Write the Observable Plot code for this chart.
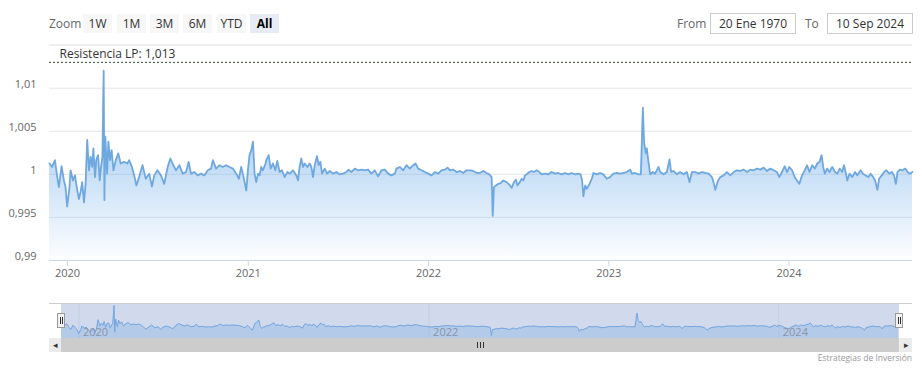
<!DOCTYPE html>
<html>
<head>
<meta charset="utf-8">
<script src="https://cdn.jsdelivr.net/npm/d3@7"></script>
<script src="https://cdn.jsdelivr.net/npm/@observablehq/plot@0.6"></script>
<style>
  body { margin: 0; background: #fff; font-family: "Open Sans", sans-serif; }
  #wrap { position: relative; width: 922px; height: 370px; overflow: hidden; background: #fff; }
  .abs { position: absolute; }
  .lbl { position: absolute; top: 14px; height: 19px; line-height: 19px; font-size: 12px; color: #666; }
  .btn { position: absolute; top: 14px; height: 19px; line-height: 19px; font-size: 12px; color: #333; background: #f7f7f7; text-align: center; }
  .btn.sel { background: #e6ebf5; font-weight: bold; color: #000; }
  .box { position: absolute; top: 13px; height: 19px; line-height: 19px; font-size: 12px; color: #333; border: 1px solid #cccccc; text-align: center; background: #fff; }
  .handle { position: absolute; top: 313px; width: 6px; height: 13px; background: #f2f2f2; border: 1px solid #999; }
  .handle::before, .handle::after { content: ""; position: absolute; top: 3px; width: 1px; height: 7px; background: #333; }
  .handle::before { left: 2px; } .handle::after { left: 4px; }
</style>
</head>
<body>
<div id="wrap"></div>
<script>
// ---- data ----
const decimalYears = [
  2019.900,2019.915,2019.930,2019.943,2019.952,2019.967,2019.980,2019.989,2019.998,2020.011,
  2020.017,2020.030,2020.041,2020.054,2020.063,2020.072,2020.081,2020.091,2020.100,2020.109,
  2020.119,2020.128,2020.137,2020.143,2020.152,2020.159,2020.169,2020.178,2020.183,2020.193,
  2020.200,2020.204,2020.209,2020.219,2020.226,2020.235,2020.244,2020.254,2020.267,2020.281,
  2020.294,2020.313,2020.331,2020.341,2020.356,2020.369,2020.381,2020.396,2020.415,2020.433,
  2020.452,2020.467,2020.480,2020.498,2020.517,2020.535,2020.554,2020.569,2020.581,2020.600,
  2020.619,2020.637,2020.656,2020.670,2020.683,2020.702,2020.720,2020.739,2020.757,2020.776,
  2020.794,2020.804,2020.822,2020.841,2020.859,2020.878,2020.896,2020.915,2020.933,2020.948,
  2020.961,2020.974,2020.989,2020.998,2021.007,2021.017,2021.026,2021.035,2021.044,2021.054,
  2021.063,2021.072,2021.081,2021.096,2021.100,2021.113,2021.124,2021.137,2021.150,2021.161,
  2021.174,2021.187,2021.202,2021.217,2021.230,2021.248,2021.267,2021.276,2021.285,2021.294,
  2021.304,2021.313,2021.328,2021.341,2021.350,2021.359,2021.369,2021.381,2021.391,2021.400,
  2021.409,2021.424,2021.437,2021.452,2021.470,2021.489,2021.507,2021.526,2021.544,2021.557,
  2021.572,2021.591,2021.609,2021.628,2021.646,2021.665,2021.683,2021.702,2021.720,2021.739,
  2021.757,2021.776,2021.794,2021.813,2021.822,2021.841,2021.859,2021.878,2021.896,2021.915,
  2021.928,2021.943,2021.961,2021.980,2021.998,2022.017,2022.035,2022.054,2022.072,2022.091,
  2022.106,2022.119,2022.137,2022.156,2022.174,2022.193,2022.211,2022.230,2022.248,2022.267,
  2022.285,2022.304,2022.322,2022.337,2022.350,2022.356,2022.363,2022.374,2022.387,2022.400,
  2022.415,2022.433,2022.452,2022.461,2022.474,2022.485,2022.493,2022.507,2022.517,2022.526,
  2022.535,2022.544,2022.559,2022.572,2022.585,2022.600,2022.615,2022.628,2022.646,2022.665,
  2022.683,2022.702,2022.720,2022.739,2022.757,2022.776,2022.794,2022.813,2022.831,2022.844,
  2022.852,2022.859,2022.869,2022.878,2022.893,2022.906,2022.915,2022.933,2022.952,2022.970,
  2022.989,2023.007,2023.026,2023.044,2023.063,2023.081,2023.100,2023.119,2023.128,2023.146,
  2023.165,2023.178,2023.189,2023.196,2023.206,2023.211,2023.220,2023.230,2023.244,2023.257,
  2023.276,2023.285,2023.304,2023.322,2023.337,2023.346,2023.359,2023.378,2023.396,2023.415,
  2023.433,2023.448,2023.461,2023.480,2023.498,2023.517,2023.535,2023.554,2023.572,2023.581,
  2023.591,2023.606,2023.619,2023.637,2023.656,2023.674,2023.693,2023.711,2023.730,2023.748,
  2023.767,2023.785,2023.804,2023.822,2023.841,2023.859,2023.878,2023.896,2023.915,2023.933,
  2023.946,2023.961,2023.976,2023.989,2024.002,2024.017,2024.031,2024.044,2024.057,2024.072,
  2024.087,2024.100,2024.113,2024.128,2024.143,2024.156,2024.169,2024.180,2024.189,2024.198,
  2024.211,2024.224,2024.239,2024.254,2024.267,2024.280,2024.294,2024.304,2024.313,2024.322,
  2024.335,2024.350,2024.365,2024.378,2024.396,2024.409,2024.424,2024.439,2024.452,2024.465,
  2024.476,2024.489,2024.498,2024.513,2024.526,2024.539,2024.554,2024.569,2024.581,2024.591,
  2024.600,2024.613,2024.628,2024.643,2024.656,2024.669,2024.683
];
const rates = [
  1.00126,1.00086,1.00165,0.99968,0.99851,1.00094,0.99929,0.99851,0.99627,0.99851,
  1.00047,0.99929,0.99988,0.99812,0.99714,0.99792,0.99910,0.99674,0.99890,1.00400,
  1.00047,1.00204,1.00086,1.00302,0.99968,1.00165,1.00223,0.99929,1.00047,1.00204,
  1.01203,0.99702,1.00439,1.00008,1.00380,1.00165,1.00282,1.00047,1.00165,1.00243,
  1.00126,1.00145,1.00126,1.00165,1.00086,0.99988,0.99871,0.99968,1.00106,0.99949,
  1.00008,0.99859,0.99988,1.00047,0.99988,0.99890,1.00086,1.00184,1.00126,1.00047,
  1.00106,1.00008,1.00027,1.00145,1.00008,1.00027,0.99988,1.00008,0.99988,1.00047,
  1.00067,1.00165,1.00067,1.00106,1.00086,1.00106,1.00086,1.00067,1.00008,0.99949,
  1.00086,0.99968,0.99812,1.00047,1.00223,1.00282,1.00380,1.00008,0.99910,1.00008,
  0.99988,1.00086,1.00047,1.00126,1.00165,1.00223,1.00067,1.00126,1.00047,1.00157,
  1.00027,1.00047,0.99968,1.00027,1.00008,1.00047,0.99988,0.99929,1.00086,1.00184,
  1.00086,1.00126,1.00086,1.00126,1.00086,0.99968,1.00106,1.00212,1.00106,1.00145,
  1.00008,1.00067,1.00008,1.00039,1.00008,1.00027,1.00000,1.00008,1.00027,1.00055,
  1.00027,1.00067,1.00047,1.00055,1.00047,1.00055,1.00008,1.00047,0.99976,1.00047,
  1.00055,1.00008,0.99988,1.00008,1.00067,1.00086,1.00047,1.00106,1.00067,1.00106,
  1.00126,1.00067,1.00047,1.00027,1.00008,0.99988,1.00027,1.00008,1.00047,1.00055,
  1.00078,1.00047,1.00055,1.00027,1.00039,1.00016,1.00047,1.00047,1.00039,1.00016,
  1.00016,1.00039,1.00016,1.00000,0.99968,0.99518,0.99851,0.99871,0.99890,0.99898,
  0.99929,0.99910,0.99871,0.99843,0.99910,0.99937,0.99871,0.99910,0.99949,0.99929,
  0.99988,1.00000,1.00027,1.00039,1.00027,1.00047,1.00027,1.00000,1.00008,1.00000,
  1.00027,1.00008,1.00016,1.00000,1.00016,1.00000,1.00016,1.00000,1.00008,1.00000,
  0.99929,0.99745,0.99871,0.99831,0.99890,0.99949,1.00016,1.00000,1.00016,1.00000,
  0.99949,0.99968,1.00008,1.00016,1.00008,1.00016,1.00027,1.00055,1.00008,1.00016,
  1.00000,1.00000,1.00773,1.00361,1.00243,1.00302,1.00145,1.00000,1.00027,1.00008,
  1.00086,1.00027,1.00000,1.00027,1.00173,1.00027,1.00039,1.00000,1.00027,1.00000,
  1.00027,0.99910,1.00027,1.00027,1.00008,1.00027,1.00016,1.00008,0.99968,0.99910,
  0.99820,0.99929,0.99968,0.99988,1.00027,0.99988,1.00027,1.00047,1.00039,1.00055,
  1.00027,1.00055,1.00047,1.00067,1.00055,1.00078,1.00039,1.00067,1.00047,1.00027,
  0.99968,1.00027,1.00094,1.00027,1.00086,1.00047,0.99968,0.99929,0.99890,0.99988,
  1.00047,1.00106,1.00027,1.00106,1.00067,1.00126,1.00145,1.00223,1.00086,1.00008,
  1.00067,1.00027,1.00086,1.00027,1.00008,1.00067,1.00027,1.00106,1.00027,0.99929,
  1.00008,0.99968,1.00027,0.99988,1.00047,1.00008,0.99988,0.99968,1.00008,0.99968,
  0.99929,0.99820,0.99949,0.99988,1.00027,1.00047,1.00008,1.00027,0.99988,0.99890,
  1.00027,1.00055,1.00047,1.00067,1.00027,1.00008,1.00027
];
const yTicks = [0.99, 0.995, 1, 1.005, 1.01];
const xTickYears = [2020, 2021, 2022, 2023, 2024];
const navTickYears = [2020, 2022, 2024];
const resistance = 1.013;
const resistanceLabel = "Resistencia LP";
const zoomButtons = ["1W", "1M", "3M", "6M", "YTD", "All"];
const fromText = "20 Ene 1970";
const toText = "10 Sep 2024";
const creditText = "Estrategias de Inversión";

// ---- helpers ----
function toDate(y) {
  const yr = Math.floor(y);
  const s = Date.UTC(yr, 0, 1), e = Date.UTC(yr + 1, 0, 1);
  return new Date(s + (y - yr) * (e - s));
}
const fmt = d => String(+d.toFixed(4)).replace(".", ",");
const data = decimalYears.map((y, i) => ({date: toDate(y), value: rates[i]}));
const xDomain = [data[0].date, data[data.length - 1].date];
const wrap = document.getElementById("wrap");

// ---- header (range selector) ----
function addEl(cls, left, text, width, extra) {
  const el = document.createElement("div");
  el.className = cls;
  el.style.left = left + "px";
  if (width) el.style.width = width + "px";
  el.textContent = text;
  if (extra) Object.assign(el.style, extra);
  wrap.appendChild(el);
  return el;
}
addEl("lbl", 49, "Zoom");
const btnLefts = [83, 117, 150, 183, 217, 250];
zoomButtons.forEach((b, i) => addEl("btn" + (b === "All" ? " sel" : ""), btnLefts[i], b, 29));
addEl("lbl", 677, "From");
addEl("box", 710, fromText, 84);
addEl("lbl", 805, "To");
addEl("box", 827, toText, 84);
addEl("abs", 49, "", 863, {top: "44px", height: "2px", background: "#efefef"});

// ---- main chart ----
const main = Plot.plot({
  width: 922, height: 290,
  marginLeft: 49, marginRight: 10, marginTop: 61, marginBottom: 30,
  style: {fontFamily: "Open Sans", fontSize: "11px", background: "transparent", overflow: "visible"},
  x: {type: "utc", domain: xDomain},
  y: {domain: [0.99, 1.0131]},
  marks: [
    Plot.ruleY(yTicks.filter(d => d > 0.99), {stroke: "#e6e6e6"}),
    Plot.areaY(data, {x: "date", y1: 0.99, y2: "value", fill: "url(#mainGrad)"}),
    Plot.lineY(data, {x: "date", y: "value", stroke: "#6fa8e1", strokeWidth: 1.8}),
    Plot.ruleY([0.99], {stroke: "#ccd6eb"}),
    Plot.ruleY([resistance], {stroke: "#2f4f2f", strokeDasharray: "2,2", strokeWidth: 1}),
    Plot.text([resistance], {x: () => xDomain[0], y: d => d, text: d => `${resistanceLabel}: ${fmt(d)}`,
      textAnchor: "start", dx: 10, dy: -8, fill: "#333", fontSize: 12}),
    Plot.axisY({ticks: yTicks, tickFormat: fmt, tickSize: 0, tickPadding: 13, fill: "#666", dy: -4, label: null, fontSize: 11}),
    Plot.axisX({ticks: xTickYears.map(y => toDate(y)), tickFormat: d3.utcFormat("%Y"), tickSize: 6,
      stroke: "#ccd6eb", fill: "#666", tickPadding: 3, label: null, fontSize: 11})
  ]
});
const defs = d3.select(main).insert("defs", ":first-child");
const g = defs.append("linearGradient").attr("id", "mainGrad").attr("x1", 0).attr("y1", 0).attr("x2", 0).attr("y2", 1);
g.append("stop").attr("offset", 0).attr("stop-color", "#7cb5ec").attr("stop-opacity", 0.9);
g.append("stop").attr("offset", 1).attr("stop-color", "#7cb5ec").attr("stop-opacity", 0.02);
main.style.position = "absolute";
main.style.left = "0px";
main.style.top = "0px";
wrap.insertBefore(main, wrap.firstChild);

// ---- navigator ----
addEl("abs", 49, "", 863, {top: "303px", height: "1px", background: "#cccccc"});
addEl("abs", 61, "", 838, {top: "304px", height: "34px", background: "rgba(102,133,194,0.3)"});
const nav = Plot.plot({
  width: 922, height: 35,
  marginLeft: 61, marginRight: 24, marginTop: 1, marginBottom: 0,
  style: {fontFamily: "Open Sans", fontSize: "11px", background: "transparent", overflow: "visible"},
  x: {type: "utc", domain: xDomain, axis: null},
  y: {domain: [0.9935, 1.0125], axis: null},
  marks: [
    Plot.ruleX(navTickYears.map(y => toDate(y)), {stroke: "#c3cde1"}),
    Plot.areaY(data, {x: "date", y1: 0.9935, y2: "value", fill: "#8fb5e4", fillOpacity: 0.45}),
    Plot.lineY(data, {x: "date", y: "value", stroke: "#74a6df", strokeWidth: 1}),
    Plot.text(navTickYears, {x: y => toDate(y), frameAnchor: "bottom", dy: -3, dx: 4,
      text: y => String(y), textAnchor: "start", lineAnchor: "bottom", fill: "#8a94a8", fontSize: 11})
  ]
});
nav.style.position = "absolute";
nav.style.left = "0px";
nav.style.top = "303px";
wrap.appendChild(nav);
addEl("handle", 57, "");
addEl("handle", 895, "");

// ---- scrollbar ----
addEl("abs", 49, "", 863, {top: "338px", height: "14px", background: "#f2f2f2"});
addEl("abs", 61, "", 838, {top: "338px", height: "14px", background: "#cccccc"});
addEl("abs", 49, "\u25C2", 12, {top: "338px", height: "14px", lineHeight: "14px", fontSize: "9px", color: "#333", textAlign: "center", background: "#ebebeb"});
addEl("abs", 900, "\u25B8", 12, {top: "338px", height: "14px", lineHeight: "14px", fontSize: "9px", color: "#333", textAlign: "center", background: "#ebebeb"});
[477, 480, 483].forEach(x => addEl("abs", x, "", 1, {top: "342px", height: "6px", background: "#333"}));

// ---- credit ----
addEl("abs", 700, creditText, 212, {top: "352px", height: "12px", lineHeight: "12px", fontSize: "8.5px", color: "#999", textAlign: "right"});
</script>
</body>
</html>
